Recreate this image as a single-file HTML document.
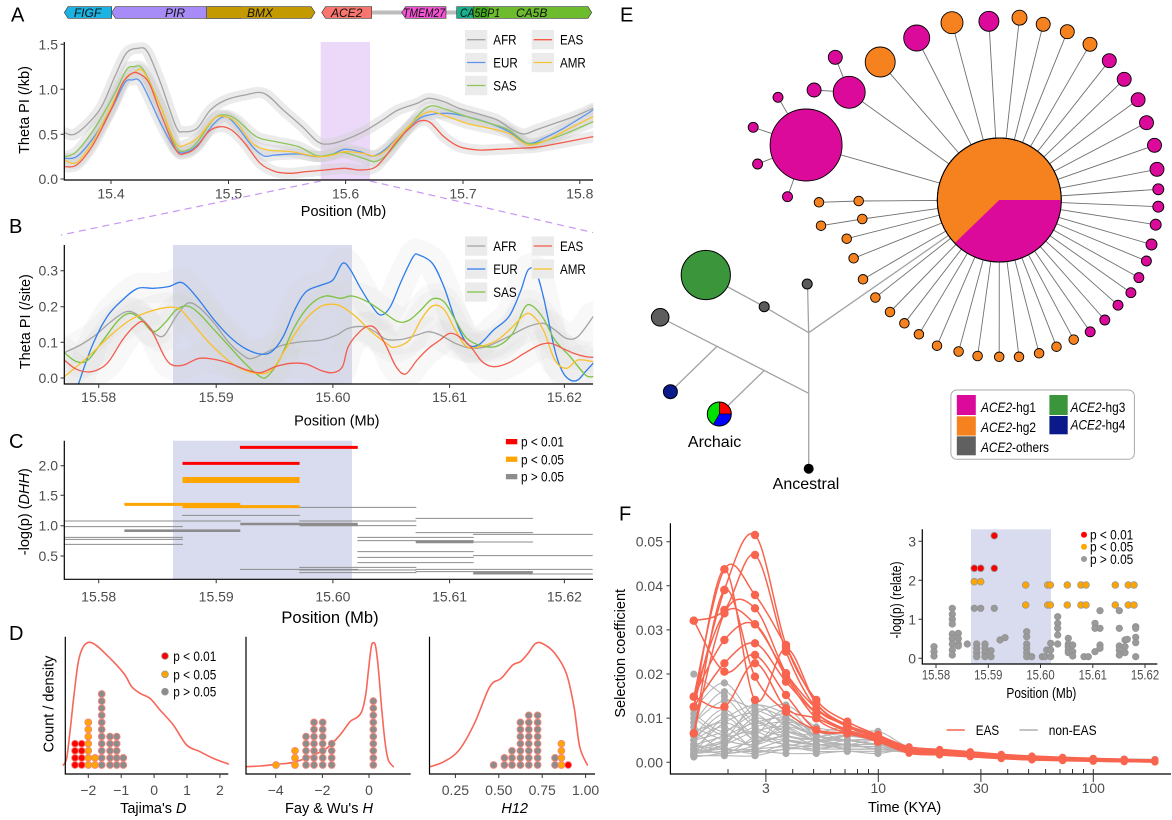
<!DOCTYPE html>
<html><head><meta charset="utf-8">
<style>
html,body{margin:0;padding:0;background:#fff;width:1172px;height:820px;overflow:hidden}
svg{display:block}
text{font-family:"Liberation Sans",Arial,sans-serif}
.tk{font-size:14px;fill:#4d4d4d}
.tt{font-size:14.5px;fill:#000}
.lg{font-size:14px;fill:#000}
.pl{font-size:20px;fill:#000}
.n{vector-effect:non-scaling-stroke;fill:none;stroke-linejoin:round;stroke-linecap:round}
.ax{stroke:#000;stroke-width:1.2;fill:none}
.tm{stroke:#333;stroke-width:1;fill:none}
</style></head><body>
<svg id="S" width="1172" height="820" viewBox="0 0 1172 820" xmlns="http://www.w3.org/2000/svg">
<defs>
<clipPath id="cA"><rect x="64.3" y="25" width="529" height="155"/></clipPath>
<clipPath id="cB"><rect x="64.3" y="236" width="529" height="148"/></clipPath>
</defs>
<rect width="1172" height="820" fill="#fff"/>

<!-- ============ PANEL A ============ -->
<text class="pl" x="11" y="21.7">A</text>
<line x1="371.7" y1="12.5" x2="457" y2="12.5" stroke="#bdbdbd" stroke-width="4"/>
<g stroke="#333" stroke-width="0.6">
<polygon points="64.3,12.5 68,6.7 111.7,6.7 111.7,18.3 68,18.3" fill="#1CB3E3"/>
<polygon points="111.7,12.5 115.5,6.7 241,6.7 241,18.3 115.5,18.3" fill="#A78BF7"/>
<polygon points="206.7,6.7 311.2,6.7 315,12.5 311.2,18.3 206.7,18.3" fill="#C39A00"/>
<polygon points="321.7,12.5 325.5,6.7 371.7,6.7 371.7,18.3 325.5,18.3" fill="#F8766D"/>
<polygon points="401.7,12.5 405.5,6.7 446,6.7 446,18.3 405.5,18.3" fill="#F054D0"/>
<rect x="456.7" y="6.7" width="31.6" height="11.6" fill="#17B18E"/>
<polygon points="473.3,6.7 588,6.7 591.7,12.5 588,18.3 473.3,18.3" fill="#4CAD00" fill-opacity="0.82"/>
</g>
<g font-size="12" font-style="italic" fill="#111" text-anchor="middle">
<text x="87.5" y="16.8">FIGF</text><text x="175" y="16.8">PIR</text><text x="260" y="16.8">BMX</text><text x="346.7" y="16.8">ACE2</text><text x="424" y="16.8" textLength="42" lengthAdjust="spacingAndGlyphs">TMEM27</text><text x="480" y="16.8" textLength="40" lengthAdjust="spacingAndGlyphs">CA5BP1</text><text x="531.7" y="16.8">CA5B</text>
</g>

<rect x="320.7" y="42" width="49.3" height="138" fill="#ECD8F9"/>
<g clip-path="url(#cA)">
<g transform="scale(0.38265 0.33333)">
<g id="Aband"></g>
<g id="Acur" stroke-width="1.3">
<polyline class="n sm" stroke="#A3A3A3" points="168,398 200,400 260,330 300,230 330,160 360,145 385,155 420,250 460,380 480,395 515,385 550,330 590,300 640,285 690,280 740,330 790,380 830,425 860,432 900,420 950,395 1000,360 1040,330 1090,310 1120,295 1160,305 1200,325 1260,345 1300,360 1340,390 1370,402 1400,390 1450,370 1500,350 1550,325"/>
<polyline class="n sm" stroke="#5C95EE" points="168,475 200,470 240,420 290,330 325,250 345,240 370,250 420,370 460,450 490,455 520,430 560,370 590,350 620,380 660,440 690,468 720,465 780,462 830,470 870,462 900,448 940,455 975,468 1010,445 1050,400 1090,360 1120,345 1170,340 1220,350 1280,370 1330,395 1380,430 1430,410 1480,380 1550,330"/>
<polyline class="n sm" stroke="#8CC65A" points="168,470 200,455 250,380 300,280 330,210 350,200 375,210 420,320 460,440 490,450 520,420 560,355 590,345 620,360 670,410 720,425 780,440 830,468 870,462 900,458 950,475 980,485 1010,465 1050,410 1090,350 1125,318 1170,330 1220,350 1280,370 1330,390 1380,430 1430,420 1480,400 1550,365"/>
<polyline class="n sm" stroke="#F8C232" points="168,480 200,488 240,430 290,320 325,240 350,218 375,215 420,320 460,430 490,432 520,410 560,355 590,350 620,370 660,430 700,450 760,455 830,470 870,465 900,455 950,460 980,468 1010,450 1050,400 1090,355 1125,335 1170,350 1220,370 1280,385 1330,400 1380,435 1430,420 1480,390 1550,350"/>
<polyline class="n sm" stroke="#F35B4B" points="168,500 200,495 240,440 290,330 320,250 345,220 365,222 390,250 420,340 460,450 485,460 515,440 545,395 575,380 605,390 640,430 680,490 720,515 760,520 800,515 850,510 900,505 940,510 975,505 1000,480 1040,420 1080,375 1100,362 1125,368 1160,410 1200,440 1250,450 1300,448 1350,445 1400,442 1460,430 1550,410"/>
</g></g></g>
<path class="ax" d="M64.3 42V180H593"/>
<path class="tm" d="M60.5 44.3H64.3M60.5 89.3H64.3M60.5 134.3H64.3M60.5 179H64.3M111 180V184M228.5 180V184M345.6 180V184M463 180V184M579.8 180V184"/>
<g class="tk" text-anchor="end"><text x="58" y="49.3">1.5</text><text x="58" y="94.3">1.0</text><text x="58" y="139.3">0.5</text><text x="58" y="184">0.0</text></g>
<g class="tk" text-anchor="middle"><text x="111" y="198.5">15.4</text><text x="228.5" y="198.5">15.5</text><text x="345.6" y="198.5">15.6</text><text x="463" y="198.5">15.7</text><text x="579.8" y="198.5">15.8</text></g>
<text class="tt" x="343.5" y="216" text-anchor="middle">Position (Mb)</text>
<text class="tt" transform="translate(29,110) rotate(-90)" text-anchor="middle">Theta PI (/kb)</text>
<!-- legend A -->
<g fill="#EBEBEB"><rect x="465" y="30" width="22.3" height="19.3"/><rect x="465" y="52.9" width="22.3" height="19.3"/><rect x="465" y="75.9" width="22.3" height="19.3"/><rect x="531.7" y="30" width="22.3" height="19.3"/><rect x="531.7" y="52.9" width="22.3" height="19.3"/></g>
<g stroke-width="1.3"><line x1="467" x2="485.3" y1="39.7" y2="39.7" stroke="#A3A3A3"/><line x1="467" x2="485.3" y1="62.5" y2="62.5" stroke="#5C95EE"/><line x1="467" x2="485.3" y1="85.5" y2="85.5" stroke="#8CC65A"/><line x1="533.7" x2="552" y1="39.7" y2="39.7" stroke="#F35B4B"/><line x1="533.7" x2="552" y1="62.5" y2="62.5" stroke="#F8C232"/></g>
<g class="lg"><text x="493.3" y="44.7" textLength="23.3" lengthAdjust="spacingAndGlyphs">AFR</text><text x="493.3" y="67.5" textLength="24.5" lengthAdjust="spacingAndGlyphs">EUR</text><text x="493.3" y="90.5" textLength="23.3" lengthAdjust="spacingAndGlyphs">SAS</text><text x="560" y="44.7" textLength="23.3" lengthAdjust="spacingAndGlyphs">EAS</text><text x="560" y="67.5" textLength="25.8" lengthAdjust="spacingAndGlyphs">AMR</text></g>
<g stroke="#C896F0" stroke-width="1.2" stroke-dasharray="7,5" fill="none"><line x1="320.7" y1="181" x2="61" y2="235"/><line x1="370" y1="181" x2="593" y2="232.5"/></g>

<!-- ============ PANEL B ============ -->
<text class="pl" x="9" y="233">B</text>
<rect x="173" y="245" width="179" height="139" fill="#D9DCEE"/>
<g clip-path="url(#cB)">
<g transform="translate(0,220) scale(0.38265 0.33333)">
<g id="Bband"></g>
<g id="Bcur" stroke-width="1.3">
<polyline class="n sm" stroke="#A3A3A3" points="168,398 210,375 250,345 290,305 330,275 360,285 390,320 410,345 430,345 460,290 490,250 520,262 560,310 600,370 640,410 660,415 700,395 740,375 790,365 840,360 880,345 910,325 950,320 980,335 1010,358 1050,358 1090,345 1120,335 1150,345 1190,370 1230,385 1270,380 1320,355 1380,320 1420,310 1450,330 1480,355 1510,350 1550,290"/>
<polyline class="n sm" stroke="#2E7DEB" points="205,492 240,380 280,290 320,240 360,205 400,205 440,200 470,187 490,200 520,240 560,300 600,350 640,385 680,402 710,395 740,350 770,270 800,215 840,195 870,180 895,130 915,148 940,200 970,255 995,285 1020,260 1050,180 1080,110 1095,105 1130,130 1160,200 1190,300 1220,370 1250,375 1290,330 1330,290 1360,215 1380,150 1400,155 1420,230 1450,390 1470,455 1490,480 1510,480 1530,455 1550,430"/>
<polyline class="n sm" stroke="#7DC242" points="168,398 200,425 230,420 270,360 310,300 340,280 370,300 400,335 430,310 460,270 490,258 520,280 560,330 600,380 640,430 680,470 700,468 730,420 770,320 810,255 850,228 890,235 920,228 960,245 1000,275 1040,305 1070,300 1100,270 1130,237 1160,245 1190,300 1220,355 1260,378 1300,378 1340,340 1370,265 1390,257 1420,295 1450,360 1490,410 1530,465 1550,470"/>
<polyline class="n sm" stroke="#FABF2A" points="168,470 200,440 240,400 290,345 340,300 390,275 440,262 470,268 500,305 540,360 580,405 620,440 670,460 710,450 750,380 790,310 830,265 860,253 890,258 930,290 970,335 1010,370 1030,382 1070,360 1100,300 1130,258 1160,268 1190,330 1220,380 1260,378 1300,360 1340,320 1370,285 1390,285 1420,330 1450,420 1480,445 1510,420 1550,425"/>
<polyline class="n sm" stroke="#F35B4B" points="168,420 200,448 240,455 280,430 320,360 350,320 375,305 400,340 430,410 450,435 480,435 520,415 560,418 600,430 640,448 680,458 720,440 760,430 800,432 840,452 870,458 895,440 910,380 940,335 965,318 985,330 1010,380 1035,440 1060,462 1090,420 1120,385 1150,360 1175,340 1200,350 1230,380 1260,425 1290,440 1330,428 1370,400 1410,375 1440,370 1470,385 1500,400 1530,410 1550,412"/>
</g></g></g>
<path class="ax" d="M64.3 245V384H593"/>
<path class="tm" d="M60.5 270.7H64.3M60.5 306.7H64.3M60.5 342.3H64.3M60.5 378H64.3M98.7 384V388M216.2 384V388M332.9 384V388M449.6 384V388M564.4 384V388"/>
<g class="tk" text-anchor="end"><text x="58" y="275.7">0.3</text><text x="58" y="311.7">0.2</text><text x="58" y="347.3">0.1</text><text x="58" y="383">0.0</text></g>
<g class="tk" text-anchor="middle"><text x="98.7" y="402">15.58</text><text x="216.2" y="402">15.59</text><text x="332.9" y="402">15.60</text><text x="449.6" y="402">15.61</text><text x="564.4" y="402">15.62</text></g>
<text class="tt" x="336.8" y="425.5" text-anchor="middle">Position (Mb)</text>
<text class="tt" transform="translate(30,321.7) rotate(-90)" text-anchor="middle">Theta PI (/site)</text>
<g fill="#EBEBEB"><rect x="465" y="236.4" width="22.3" height="19.3"/><rect x="465" y="259.4" width="22.3" height="19.3"/><rect x="465" y="282.4" width="22.3" height="19.3"/><rect x="531.7" y="236.4" width="22.3" height="19.3"/><rect x="531.7" y="259.4" width="22.3" height="19.3"/></g>
<g stroke-width="1.3"><line x1="467" x2="485.3" y1="246" y2="246" stroke="#A3A3A3"/><line x1="467" x2="485.3" y1="269" y2="269" stroke="#2E7DEB"/><line x1="467" x2="485.3" y1="292" y2="292" stroke="#7DC242"/><line x1="533.7" x2="552" y1="246" y2="246" stroke="#F35B4B"/><line x1="533.7" x2="552" y1="269" y2="269" stroke="#FABF2A"/></g>
<g class="lg"><text x="493.3" y="251" textLength="23.3" lengthAdjust="spacingAndGlyphs">AFR</text><text x="493.3" y="274" textLength="24.5" lengthAdjust="spacingAndGlyphs">EUR</text><text x="493.3" y="297" textLength="23.3" lengthAdjust="spacingAndGlyphs">SAS</text><text x="560" y="251" textLength="23.3" lengthAdjust="spacingAndGlyphs">EAS</text><text x="560" y="274" textLength="25.8" lengthAdjust="spacingAndGlyphs">AMR</text></g>

<!-- ============ PANEL C ============ -->
<text class="pl" x="9" y="448">C</text>
<rect x="173" y="440.7" width="179" height="138.6" fill="#D9DCEE"/>
<g transform="translate(0,420) scale(0.38265 0.33333)">
<path class="n" stroke="#8C8C8C" stroke-width="1" d="M783 262H1087M477 286H783M168 303H628M783 303H1087M1087 295H1392M935 317H1087M168 320H477M1087 338H1392M1237 343H1548M168 352H477M168 358H477M935 352H1237M1087 366H1392M935 362H1237M168 373H477M935 395H1237M935 412H1237M1237 407H1548M935 428H1237M783 442H1087M628 448H935M783 450H1087M1087 448H1548M783 458H1087M1237 462H1548M1087 455H1392"/>
<path class="n" stroke="#8C8C8C" stroke-width="2.6" style="stroke-linecap:butt" d="M628 312H935M783 315H935M325 332H628M1087 366H1237M1237 458H1392"/>
<path class="n" stroke="#FFA500" stroke-width="3" style="stroke-linecap:butt" d="M325 253H628M477 260H783"/>
<path class="n" stroke="#FFA500" stroke-width="6" style="stroke-linecap:butt" d="M477 180H783"/>
<path class="n" stroke="#FF0000" stroke-width="3" style="stroke-linecap:butt" d="M627 82H935M477 130H783"/>
</g>
<path class="ax" d="M64.3 440.7V579.3H593"/>
<path class="tm" d="M60.5 465.7H64.3M60.5 495.3H64.3M60.5 525.7H64.3M60.5 556H64.3M98.7 579.3V583.3M216.2 579.3V583.3M332.9 579.3V583.3M449.6 579.3V583.3M564.4 579.3V583.3"/>
<g class="tk" text-anchor="end"><text x="58" y="470.7">2.0</text><text x="58" y="500.3">1.5</text><text x="58" y="530.7">1.0</text><text x="58" y="561">0.5</text></g>
<g class="tk" text-anchor="middle"><text x="98.7" y="601.5">15.58</text><text x="216.2" y="601.5">15.59</text><text x="332.9" y="601.5">15.60</text><text x="449.6" y="601.5">15.61</text><text x="564.4" y="601.5">15.62</text></g>
<text x="330" y="623" text-anchor="middle" font-size="16.5">Position (Mb)</text>
<text class="tt" transform="translate(29,511.7) rotate(-90)" text-anchor="middle">-log(p) (<tspan font-style="italic">DHH</tspan>)</text>
<rect x="505.9" y="439" width="11.4" height="5.3" fill="#FF0000"/>
<rect x="505.9" y="456.6" width="11.4" height="5.3" fill="#FFA500"/>
<rect x="505.9" y="474" width="11.4" height="5.3" fill="#8C8C8C"/>
<g class="lg"><text x="521" y="446.7" textLength="43" lengthAdjust="spacingAndGlyphs">p &lt; 0.01</text><text x="521" y="464.3" textLength="43" lengthAdjust="spacingAndGlyphs">p &lt; 0.05</text><text x="521" y="481.7" textLength="43" lengthAdjust="spacingAndGlyphs">p &gt; 0.05</text></g>

<!-- ============ PANEL D ============ -->
<text class="pl" x="9" y="640">D</text>
<g transform="translate(0,575) scale(0.33333)">
<polyline class="n sm" stroke="#F8665A" stroke-width="1.6" points="190,570 200,550 210,470 222,360 235,260 250,215 268,202 290,212 320,240 345,265 375,300 395,335 420,355 450,370 480,405 520,450 560,510 600,530 640,550 685,567"/>
<polyline class="n sm" stroke="#F8665A" stroke-width="1.6" points="740,575 780,573 830,568 880,562 930,545 980,520 1020,480 1050,440 1070,428 1085,410 1097,360 1106,280 1114,215 1120,203 1127,215 1135,280 1145,400 1155,500 1165,555 1180,575"/>
</g>
<g transform="translate(0,620) scale(0.38265 0.33333)">
<polyline class="n sm" stroke="#F8665A" stroke-width="1.6" points="1125,440 1160,425 1200,390 1240,310 1280,200 1310,175 1340,135 1360,125 1380,100 1400,70 1420,72 1450,100 1480,160 1500,260 1515,380 1535,435"/>
</g>
<g id="gD"></g>
<path class="ax" d="M65.3 636.7V774H228.3M246 636.7V774H410.7M429.5 636.7V774H595"/>
<path class="tm" d="M88.3 774V778M121.2 774V778M154.1 774V778M187 774V778M219.9 774V778M275.7 774V778M322.4 774V778M369 774V778M455.4 774V778M498.8 774V778M542.2 774V778M585.6 774V778"/>
<g class="tk" text-anchor="middle"><text x="88.3" y="795">−2</text><text x="121.2" y="795">−1</text><text x="154.1" y="795">0</text><text x="187" y="795">1</text><text x="219.9" y="795">2</text><text x="275.7" y="795">−4</text><text x="322.4" y="795">−2</text><text x="369" y="795">0</text><text x="455.4" y="795">0.25</text><text x="498.8" y="795">0.50</text><text x="542.2" y="795">0.75</text><text x="585.6" y="795">1.00</text></g>
<g class="tt" text-anchor="middle"><text x="153.3" y="813">Tajima's <tspan font-style="italic">D</tspan></text><text x="329" y="813">Fay &amp; Wu's <tspan font-style="italic">H</tspan></text><text x="514.7" y="813" font-style="italic">H12</text></g>
<text class="tt" transform="translate(53.5,704) rotate(-90)" text-anchor="middle">Count / density</text>
<circle cx="165" cy="656" r="3.4" fill="#FF0000" stroke="#999" stroke-width="0.8"/>
<circle cx="165" cy="674.3" r="3.4" fill="#FFA500" stroke="#999" stroke-width="0.8"/>
<circle cx="165" cy="691.7" r="3.4" fill="#8C8C8C" stroke="#999" stroke-width="0.8"/>
<g class="lg"><text x="173.3" y="661" textLength="43" lengthAdjust="spacingAndGlyphs">p &lt; 0.01</text><text x="173.3" y="679.3" textLength="43" lengthAdjust="spacingAndGlyphs">p &lt; 0.05</text><text x="173.3" y="696.7" textLength="43" lengthAdjust="spacingAndGlyphs">p &gt; 0.05</text></g>

<!-- ============ PANEL E ============ -->
<text class="pl" x="620" y="21.7">E</text>
<g id="gElines" stroke="#707070" stroke-width="0.9"></g>
<g stroke="#a3a3a3" stroke-width="1.3" fill="none">
<line x1="808.7" y1="332.7" x2="999.3" y2="200"/>
<line x1="808.7" y1="332.7" x2="807.5" y2="284"/>
<polyline points="808.7,332.7 764.2,306.7 705.8,275"/>
<line x1="808.7" y1="332.7" x2="808.7" y2="468.7"/>
<line x1="808.7" y1="393.3" x2="660.2" y2="317.3"/>
<line x1="716.7" y1="346.6" x2="670.4" y2="391.7"/>
<line x1="764.2" y1="370.5" x2="719.3" y2="414"/>
</g>
<g id="gEcirc" stroke="#000" stroke-width="0.9"></g>
<g stroke="#000" stroke-width="1">
<circle cx="999.3" cy="200" r="62" fill="#F5821F"/>
<path d="M999.3,200 L1061.3,200 A62,62 0 0 1 954.7,243.1 Z" fill="#DC0A9B" stroke="none"/>
<circle cx="999.3" cy="200" r="62" fill="none"/>
<circle cx="705.8" cy="275" r="24.6" fill="#3B963B"/>
<circle cx="764.2" cy="306.7" r="5" fill="#5A5A5A"/>
<circle cx="807.2" cy="284" r="5" fill="#5A5A5A"/>
<circle cx="660.2" cy="317.3" r="8.8" fill="#5E5E5E"/>
<circle cx="670.4" cy="391.7" r="7" fill="#0A1A8A"/>
<circle cx="808.7" cy="468.7" r="4.5" fill="#000"/>
<path d="M719.3,414 L719.3,402 A12,12 0 0 1 731.3,414 Z" fill="#FF0000" stroke-width="0.6"/>
<path d="M719.3,414 L731.3,414 A12,12 0 0 1 713.3,424.4 Z" fill="#0000FF" stroke-width="0.6"/>
<path d="M719.3,414 L713.3,424.4 A12,12 0 0 1 719.3,402 Z" fill="#00E000" stroke-width="0.6"/>
<circle cx="719.3" cy="414" r="12" fill="none"/>
</g>
<text x="714.6" y="447" text-anchor="middle" font-size="16">Archaic</text>
<text x="806" y="489" text-anchor="middle" font-size="16">Ancestral</text>
<rect x="950.9" y="390" width="183.5" height="69.3" rx="6" fill="#fff" stroke="#aaa" stroke-width="1"/>
<rect x="956.8" y="395" width="19" height="20" fill="#DC0A9B"/>
<rect x="956.8" y="416.3" width="19" height="19.3" fill="#F5821F"/>
<rect x="956.8" y="436.3" width="19" height="19" fill="#606060"/>
<rect x="1049.4" y="395" width="18.3" height="20" fill="#3B963B"/>
<rect x="1049.4" y="416" width="18.3" height="18.3" fill="#0A1A8A"/>
<g class="lg">
<text x="981" y="412" textLength="55" lengthAdjust="spacingAndGlyphs"><tspan font-style="italic">ACE2</tspan>-hg1</text>
<text x="981" y="432" textLength="55" lengthAdjust="spacingAndGlyphs"><tspan font-style="italic">ACE2</tspan>-hg2</text>
<text x="981" y="452" textLength="68" lengthAdjust="spacingAndGlyphs"><tspan font-style="italic">ACE2</tspan>-others</text>
<text x="1070.6" y="412" textLength="54.7" lengthAdjust="spacingAndGlyphs"><tspan font-style="italic">ACE2</tspan>-hg3</text>
<text x="1070.6" y="429.5" textLength="54.7" lengthAdjust="spacingAndGlyphs"><tspan font-style="italic">ACE2</tspan>-hg4</text>
</g>

<!-- ============ PANEL F ============ -->
<text class="pl" x="619" y="520.7">F</text>
<g id="gF"></g>
<path class="ax" d="M670.4 523.3V774H1171"/>
<path class="tm" d="M666.5 541.7H670.4M666.5 585.8H670.4M666.5 629.9H670.4M666.5 674H670.4M666.5 718.1H670.4M666.5 762.3H670.4M765.9 769V782M878.3 769V782M980.9 769V782M1093.3 769V782M728 769V774M792.7 769V774M813.6 769V774M830.6 769V774M845 769V774M857.5 769V774M868.5 769V774M943 769V774M1007.7 769V774M1028.6 769V774M1045.6 769V774M1060 769V774M1072.5 769V774M1083.5 769V774"/>
<g class="tk" text-anchor="end"><text x="663" y="546.7">0.05</text><text x="663" y="590.8">0.04</text><text x="663" y="634.9">0.03</text><text x="663" y="679">0.02</text><text x="663" y="723.1">0.01</text><text x="663" y="767.3">0.00</text></g>
<g class="tk" text-anchor="middle"><text x="765.9" y="793">3</text><text x="878.3" y="793">10</text><text x="980.9" y="793">30</text><text x="1093.3" y="793">100</text></g>
<text class="tt" x="904.6" y="812" text-anchor="middle">Time (KYA)</text>
<text class="tt" transform="translate(625,653.3) rotate(-90)" text-anchor="middle">Selection coefficient</text>
<line x1="946.6" x2="964.8" y1="730" y2="730" stroke="#F8644E" stroke-width="1.5"/>
<line x1="1019.5" x2="1037.8" y1="730" y2="730" stroke="#AFAFAF" stroke-width="1.5"/>
<g class="lg"><text x="975.8" y="735" textLength="23.3" lengthAdjust="spacingAndGlyphs">EAS</text><text x="1048.7" y="735" textLength="48" lengthAdjust="spacingAndGlyphs">non-EAS</text></g>

<!-- inset -->
<rect x="971" y="529.3" width="80" height="134.7" fill="#D9DCEE"/>
<g id="gI"></g>
<path class="ax" d="M922.3 529.3V664H1157.3"/>
<path class="tm" d="M918.5 541.3H922.3M918.5 580.3H922.3M918.5 619.3H922.3M918.5 658.3H922.3M936 664V668M988.3 664V668M1040.5 664V668M1092.8 664V668M1145 664V668"/>
<g class="tk" text-anchor="end"><text x="916" y="546.3">3</text><text x="916" y="585.3">2</text><text x="916" y="624.3">1</text><text x="916" y="663.3">0</text></g>
<g class="tk" text-anchor="middle"><text x="936" y="679.5" textLength="28.3" lengthAdjust="spacingAndGlyphs">15.58</text><text x="988.3" y="679.5" textLength="28.3" lengthAdjust="spacingAndGlyphs">15.59</text><text x="1040.5" y="679.5" textLength="28.3" lengthAdjust="spacingAndGlyphs">15.60</text><text x="1092.8" y="679.5" textLength="28.3" lengthAdjust="spacingAndGlyphs">15.61</text><text x="1145" y="679.5" textLength="28.3" lengthAdjust="spacingAndGlyphs">15.62</text></g>
<text class="tt" x="1041.4" y="698" text-anchor="middle" textLength="70" lengthAdjust="spacingAndGlyphs">Position (Mb)</text>
<text class="tt" transform="translate(901,600) rotate(-90)" text-anchor="middle" textLength="77" lengthAdjust="spacingAndGlyphs">-log(p) (relate)</text>
<circle cx="1084" cy="534.7" r="3" fill="#FF0000"/>
<circle cx="1084" cy="546.7" r="3" fill="#FFA500"/>
<circle cx="1084" cy="559" r="3" fill="#9A9A9A"/>
<g class="lg"><text x="1090" y="539.7" textLength="43.3" lengthAdjust="spacingAndGlyphs">p &lt; 0.01</text><text x="1090" y="551.7" textLength="43.3" lengthAdjust="spacingAndGlyphs">p &lt; 0.05</text><text x="1090" y="564" textLength="43.3" lengthAdjust="spacingAndGlyphs">p &gt; 0.05</text></g>
</svg>

<script>
(function(){
var NS='http://www.w3.org/2000/svg';
function E(p,t,a){var e=document.createElementNS(NS,t);for(var k in a)e.setAttribute(k,a[k]);p.appendChild(e);return e;}
function G(id){return document.getElementById(id);}
function crd(a){
  var d='M'+a[0][0].toFixed(1)+','+a[0][1].toFixed(1);
  for(var i=0;i<a.length-1;i++){
    var p0=a[i>0?i-1:i],p1=a[i],p2=a[i+1],p3=a[i+2<a.length?i+2:i+1];
    var c1x=p1[0]+(p2[0]-p0[0])/6,c1y=p1[1]+(p2[1]-p0[1])/6;
    var c2x=p2[0]-(p3[0]-p1[0])/6,c2y=p2[1]-(p3[1]-p1[1])/6;
    d+='C'+c1x.toFixed(1)+','+c1y.toFixed(1)+' '+c2x.toFixed(1)+','+c2y.toFixed(1)+' '+p2[0].toFixed(1)+','+p2[1].toFixed(1);
  }
  return d;
}
// smooth polylines
var sm=document.querySelectorAll('polyline.sm');
for(var i=0;i<sm.length;i++){
  var pl=sm[i];
  var a=pl.getAttribute('points').trim().split(/\s+/).map(function(s){var q=s.split(',');return [parseFloat(q[0]),parseFloat(q[1])];});
  var p=document.createElementNS(NS,'path');
  for(var j=0;j<pl.attributes.length;j++){var at=pl.attributes[j];if(at.name!=='points')p.setAttribute(at.name,at.value);}
  p.setAttribute('d',crd(a));
  pl.parentNode.replaceChild(p,pl);
}
// bands
function bands(src,dst,w,col,op){var cs=G(src).children,d=G(dst);for(var i=0;i<cs.length;i++){var c=cs[i].cloneNode();c.setAttribute('stroke',col);c.setAttribute('stroke-width',w);c.setAttribute('stroke-opacity',op);d.appendChild(c);}}
bands('Acur','Aband',11,'#D0D0D0',0.42);
bands('Bcur','Bband',30,'#D2D2D2',0.16);
// D dots
var gD=G('gD'),col={r:'#FF0000',o:'#FFA500',g:'#8C8C8C'};
var dc=[[75,4,'r'],[81.7,4,'r'],[88.3,7,'o'],[95,2,'o'],[101.7,11,'g'],[110,5,'g'],[116.7,5,'g'],[123.3,2,'g'],
[276,1,'o'],[295,3,'o'],[306,5,'g'],[314,7,'g'],[322.7,7,'g'],[331.7,4,'g'],[373.3,10,'g'],
[493.6,1,'g'],[504.4,2,'g'],[512,3,'g'],[520.4,7,'g'],[528.8,8,'g'],[537.6,8,'g'],[555,2,'g'],[561.4,4,'o'],[568.2,1,'r']];
dc.forEach(function(c){for(var k=0;k<c[1];k++)E(gD,'circle',{cx:c[0],cy:(765-k*7.1).toFixed(1),r:3.4,fill:col[c[2]],stroke:'#F4867A','stroke-width':0.9});});
// E network
var C=[999.3,200],gl=G('gElines'),gc=G('gEcirc'),cm={m:'#DC0A9B',o:'#F5821F'};
var S=[[806.1,145,36,'m'],[849.2,92.3,16,'m'],[880.2,62,15,'o'],[916.7,38,13,'m'],[952,22.7,11,'o'],[988.9,21.3,10,'m'],[1019.5,17.7,7.5,'o'],[1043.2,24.3,7,'o'],[1067.3,31.7,7,'o'],[1090,44.3,7,'o'],[1109.3,60.7,7,'m'],[1124.2,79.3,7,'m'],[1138.1,99.7,7,'m'],[1146.5,122.7,7,'m'],[1154.5,145.3,7,'m'],[1157,169.3,7,'m'],[1158.3,189.3,5.5,'m'],[1158.3,206.7,5.5,'m'],[1155.7,224.7,5.5,'m'],[1151.5,244.5,5.5,'m'],[1146.4,261,5,'m'],[1138.9,277.6,5,'m'],[1130.9,292.7,5,'m'],[1118,305.2,5,'m'],[1104.8,320,5,'m'],[1090.2,331.8,5,'m'],
[1073.7,339.6,4.8,'o'],[1056.5,346.7,4.8,'o'],[1039.1,353.3,4.8,'o'],[1019,356.8,4.8,'o'],[999.2,356.8,4.8,'o'],[977.6,356,4.8,'o'],[958.6,351.5,4.8,'o'],[937,345.7,4.8,'o'],[918.9,334.3,4.8,'o'],[904.4,323.3,4.8,'o'],[890,312,4.8,'o'],[875.4,297.5,4.8,'o'],[863,279.3,4.8,'o'],[853.6,258.3,4.8,'o'],[846.7,238.7,4.8,'o'],[858.7,201,4.8,'o'],[862.3,219,4.8,'o']];
var SS=[[806.1,145,778,97.3,5,'m'],[806.1,145,753.2,127.3,5,'m'],[806.1,145,757.6,164,5,'m'],[806.1,145,787.5,196.7,5,'m'],[849.2,92.3,835.3,57.3,7,'m'],[849.2,92.3,814.1,90,7,'m'],[858.7,201,819,202.3,4.8,'o'],[862.3,219,821,225.7,4.8,'o']];
S.forEach(function(s){E(gl,'line',{x1:C[0],y1:C[1],x2:s[0],y2:s[1]});});
SS.forEach(function(s){E(gl,'line',{x1:s[0],y1:s[1],x2:s[2],y2:s[3]});});
S.forEach(function(s){E(gc,'circle',{cx:s[0],cy:s[1],r:s[2],fill:cm[s[3]]});});
SS.forEach(function(s){E(gc,'circle',{cx:s[2],cy:s[3],r:s[4],fill:cm[s[5]]});});
// F main
var gF=G('gF');
var xs=[693.8,724.4,755,786,816.3,847.3,878,909,939.6,970.3,1001.3,1031.9,1062.6,1093.2,1124.2,1154.9];
var GV=[[20,15,8,6,5,4,3],[12,18,10,7,5,5,4],[9,14,12,9,6,5,4],[6,10,13,11,7,6,5],[5,7,11,13,8,7,5],[4,6,9,10,7,8,6],[3,5,8,9,6,7,6],[2,4,7,8,5,6,7],[8,5,4,6,4,5,5],[7,9,6,5,4,4,4],[4,3,5,7,5,5,4],[3,2,3,5,4,4,4],[2,3,2,4,3,4,3],[1.5,1.5,1.5,3,3,3,3],[5,8,3,3,4,3,3],[10,6,7,4,5,6,5],[6,12,5,8,6,5,4],[3,9,11,6,5,4,4],[2,4,10,7,6,5,4],[4,2,6,12,6,6,5],[1.8,6,4,9,7,5,5],[3.5,4.5,9,5,4,4,5],[11,7,12,10,6,5,4],[5,11,6,4,3.5,3.5,3.5],[2.5,5,13,8,5,6,6],[7,3,4,10,5,4,4],[1.5,10,5,6,4,4,4],[9,16,9,11,6,5,4],[2,2.5,3,3.5,2.5,2.5,2.5],[1.2,2,2.5,2,2,2.5,2]];
var tail=[2.8,2.2,1.8,1.4,1.1,0.9,0.7,0.6,0.5];
var gPts=GV.map(function(g,i){var o=((i*7)%5-2)*0.3;var v=g.concat(tail.map(function(t){return Math.max(0.15,t+o*t/2.8);}));return v.map(function(val,j){return [xs[j],762.3-4.41*val];});});
var R=[[590,208,285,440,610,680,712,745,752,758,765,770,774,777,779,781],[620,270,105,435,600,665,705,740,748,755,763,768,772,775,778,780],[362,330,165,455,625,675,710,748,755,760,767,772,776,778,780,782],[700,340,325,520,640,690,715,750,757,762,769,774,777,779,781,783],[590,420,373,530,655,700,720,752,759,764,770,775,778,780,782,784],[620,490,430,545,640,690,718,754,760,766,772,776,779,781,783,785],[362,515,465,585,690,700,722,756,762,768,774,778,780,782,784,785],[590,620,490,625,655,695,725,758,764,770,775,779,781,783,785,786],[700,270,530,635,690,700,725,760,765,770,776,780,782,784,785,786],[620,208,600,445,610,675,708,745,752,758,765,770,774,777,779,781],[590,340,373,520,625,680,712,748,755,761,768,773,776,779,781,783]];
var rPts=R.map(function(r){return r.map(function(zy,j){return [xs[j],500+zy/3];});});
gPts.forEach(function(a){E(gF,'path',{d:crd(a),fill:'none',stroke:'#B5B5B5','stroke-width':1.1});});
gPts.forEach(function(a){a.forEach(function(p){E(gF,'circle',{cx:p[0].toFixed(1),cy:p[1].toFixed(1),r:3.6,fill:'#ABABAB'});});});
rPts.forEach(function(a){E(gF,'path',{d:crd(a),fill:'none',stroke:'#F8644E','stroke-width':1.5,'stroke-linejoin':'round'});});
rPts.forEach(function(a){a.forEach(function(p,j){E(gF,'circle',{cx:p[0].toFixed(1),cy:p[1].toFixed(1),r:(j<7?4.2:3.6),fill:'#F8644E'});});});
// inset
var gI=G('gI');
var iG=[[974.3,608.3],[980.7,608.3],[994.3,608.3]];
function colp(x,ys){ys.forEach(function(y){iG.push([x,y]);});}
colp(934,[646.7,651.7,656]);colp(952.3,[608.3,614.3,619.3,624,634,638.7,644,650,655]);colp(958.3,[633.3,638.7,644,646]);colp(967.3,[644]);colp(976.7,[644,648.3,652.7,656.7]);colp(985,[644,648.3,652.7,656.7]);colp(991,[650.7,656.7]);colp(1000,[640]);colp(1005,[637.7]);colp(1026.7,[631.7,636.7,644,648.3,652.7,656.7]);colp(1031.7,[656.7]);colp(1042.3,[656.7]);colp(1045,[656.7]);colp(1046.7,[650]);colp(1050.7,[643.3,650,656.7]);colp(1057.7,[616.7,623.3,628.3,635,644]);colp(1068.3,[638.3,644,646.7,650,652.7]);colp(1072.7,[645,651.7,656]);colp(1084,[656.7]);colp(1088.3,[656.7]);colp(1095,[623.3,628.3,651.7]);colp(1100,[610.7,628.3,645,648.3]);colp(1119.3,[610.7,628.3,646,650,655]);colp(1125,[640,646.7,652.7]);colp(1127.3,[639.3]);colp(1135.7,[626.7,628.3,637.3,642.7,656.7]);
var iO=[[974.3,581.7],[980.7,581.7]];
[1025.7,1047.7,1050.3,1067.3,1081,1086,1115.3,1128.3,1134].forEach(function(x){iO.push([x,585]);iO.push([x,605]);});
var iR=[[974.3,568.3],[980.7,568.3],[994.3,568.3],[994.3,535.7]];
iG.forEach(function(p){E(gI,'circle',{cx:p[0],cy:p[1],r:3.3,fill:'#9A9A9A',stroke:'#8E8E8E','stroke-width':0.6});});
iO.forEach(function(p){E(gI,'circle',{cx:p[0],cy:p[1],r:3.4,fill:'#FFA500',stroke:'#999','stroke-width':0.8});});
iR.forEach(function(p){E(gI,'circle',{cx:p[0],cy:p[1],r:3.4,fill:'#FF0000',stroke:'#999','stroke-width':0.8});});
})();
</script>
</body></html>
